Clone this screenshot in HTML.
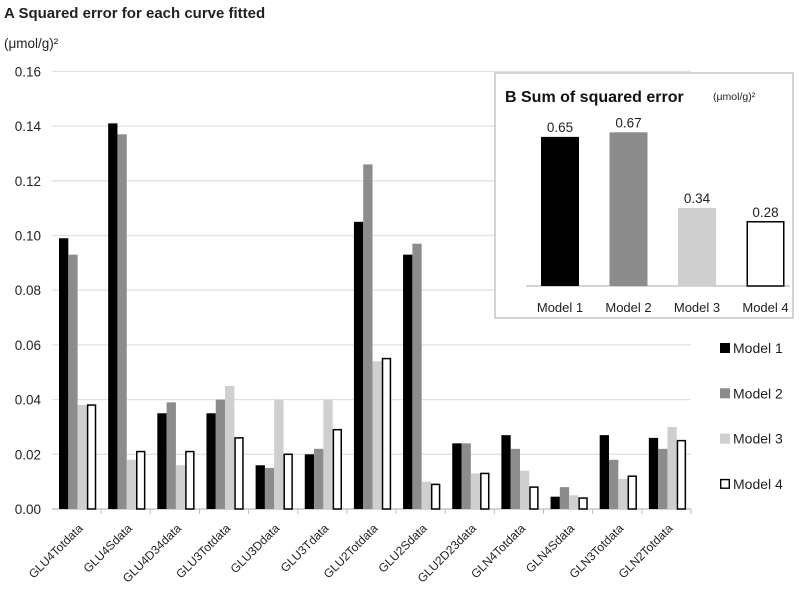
<!DOCTYPE html>
<html><head><meta charset="utf-8"><style>
body{margin:0;background:#fff;width:800px;height:597px;overflow:hidden;font-family:"Liberation Sans",sans-serif}
svg text{font-family:"Liberation Sans","DejaVu Sans",sans-serif}
</style></head><body>
<svg id="chart" width="800" height="597"></svg>
<script>
const categories=["GLU4Totdata","GLU4Sdata","GLU4D34data","GLU3Totdata","GLU3Ddata","GLU3Tdata","GLU2Totdata","GLU2Sdata","GLU2D23data","GLN4Totdata","GLN4Sdata","GLN3Totdata","GLN2Totdata"];
const model1=[0.099,0.141,0.035,0.035,0.016,0.020,0.105,0.093,0.024,0.027,0.0045,0.027,0.026];
const model2=[0.093,0.137,0.039,0.040,0.015,0.022,0.126,0.097,0.024,0.022,0.008,0.018,0.022];
const model3=[0.038,0.018,0.016,0.045,0.040,0.040,0.054,0.010,0.013,0.014,0.005,0.011,0.030];
const model4=[0.038,0.021,0.021,0.026,0.020,0.029,0.055,0.009,0.013,0.008,0.004,0.012,0.025];
const yTicks=[0,0.02,0.04,0.06,0.08,0.10,0.12,0.14,0.16];
const yTickLabels=["0.00","0.02","0.04","0.06","0.08","0.10","0.12","0.14","0.16"];
const seriesNames=["Model 1","Model 2","Model 3","Model 4"];
const sumCategories=["Model 1","Model 2","Model 3","Model 4"];
const sumValues=[0.65,0.67,0.34,0.28];
const sumLabels=["0.65","0.67","0.34","0.28"];

const NS="http://www.w3.org/2000/svg";
const svg=document.getElementById('chart');
function mk(tag,attrs,parent){const e=document.createElementNS(NS,tag);for(const k in attrs)e.setAttribute(k,attrs[k]);(parent||svg).appendChild(e);return e;}
const fills=["#000","#8c8c8c","#cfcfcf","#fff"];
const x0=52,x1=691,yBase=509,yPerUnit=54.7/0.02;
const yS=v=>yBase-v*yPerUnit;
const gw=(x1-x0)/categories.length;

let t=mk('text',{x:4,y:18,'font-size':15,'font-weight':'bold',fill:'#222'});t.textContent="A  Squared error for each curve fitted";


t=mk('text',{x:4,y:48,'font-size':13.5,fill:'#222'});t.textContent="(μmol/g)²";



yTicks.forEach((v,i)=>{
  const g=mk('line',{x1:x0,x2:x1,y1:yS(v),y2:yS(v),stroke:i===0?'#bbb':'#e2e2e2','stroke-width':1.3});
  
  
  const l=mk('text',{x:41,y:yS(v)+5,'font-size':13.5,'text-anchor':'end',fill:'#222'});l.textContent=yTickLabels[i];
  
  
});
const series=[model1,model2,model3,model4];
categories.forEach((c,i)=>{
  const gx=x0+i*gw;
  const tk=mk('line',{x1:gx+gw,x2:gx+gw,y1:yBase,y2:yBase+5,stroke:'#bbb'});
  
  
  series.forEach((s,j)=>{
    const bw=9.3,bx=gx+7+j*bw;
    const r=mk('rect',{x:bx+(j===3?0.7:0),y:yS(s[i]),width:bw-(j===3?1.4:0),height:yBase-yS(s[i]),fill:fills[j],stroke:j===3?'#000':'none','stroke-width':1.5});
    
    
  });
  const cx=gx+gw/2+7;
  const lb=mk('text',{x:0,y:0,'font-size':12,'text-anchor':'end',fill:'#222',transform:`translate(${cx},${yBase+20}) rotate(-45)`});
  lb.textContent=c;
  
  
});

// legend
seriesNames.forEach((n,j)=>{
  const ly=348+j*45.3;
  const sq=mk('rect',{x:720+(j===3?0.7:0),y:ly-5+(j===3?0.7:0),width:10-(j===3?1.4:0),height:10-(j===3?1.4:0),fill:fills[j],stroke:j===3?'#000':'none','stroke-width':1.4});
  
  
  const tx=mk('text',{x:733,y:ly+5,'font-size':14,fill:'#222'});tx.textContent=n;
  
  
});

// inset
const box=mk('rect',{x:495,y:73,width:298,height:245,fill:'#fff',stroke:'#aaa','stroke-width':1});


t=mk('text',{x:505,y:102,'font-size':16,'font-weight':'bold',fill:'#111'});t.textContent="B  Sum of squared error";


t=mk('text',{x:713,y:100,'font-size':10.5,fill:'#222'});t.textContent="(μmol/g)²";


const iBase=286,iScale=78/0.34;
const ax=mk('line',{x1:526,x2:790,y1:iBase,y2:iBase,stroke:'#bbb','stroke-width':1.3});


sumCategories.forEach((c,j)=>{
  const cx=560+j*68.5,bw=38,top=iBase-sumValues[j]*iScale;
  const r=mk('rect',{x:cx-bw/2+(j===3?0.75:0),y:top,width:bw-(j===3?1.5:0),height:iBase-top,fill:fills[j],stroke:j===3?'#000':'none','stroke-width':1.5});
  
  
  const v=mk('text',{x:cx,y:top-5,'font-size':13.5,'text-anchor':'middle',fill:'#222'});v.textContent=sumLabels[j];
  
  
  const l=mk('text',{x:cx,y:312,'font-size':13,'text-anchor':'middle',fill:'#222'});l.textContent=c;
  
  
});
</script>
</body></html>
